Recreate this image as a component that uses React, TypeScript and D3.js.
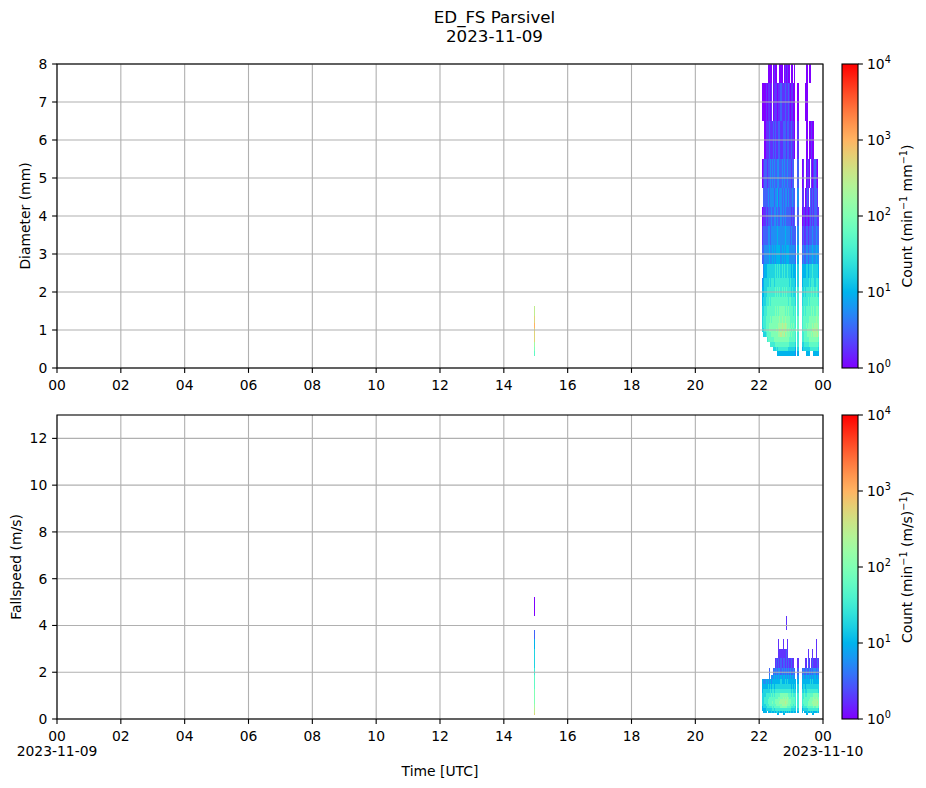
import * as d3 from 'd3';
import React from 'react';

// Parsivel class centres, used as mesh edges (cell j spans edge j .. edge j+1)
const diamEdges = [0.062, 0.187, 0.312, 0.437, 0.562, 0.687, 0.812, 0.937, 1.062, 1.187, 1.375, 1.625,
  1.875, 2.125, 2.375, 2.75, 3.25, 3.75, 4.25, 4.75, 5.5, 6.5, 7.5, 8.5];
const velEdges = [0.05, 0.15, 0.25, 0.35, 0.45, 0.55, 0.65, 0.75, 0.85, 0.95, 1.1, 1.3, 1.5, 1.7, 1.9,
  2.2, 2.6, 3.0, 3.4, 3.8, 4.4, 5.2, 6.0];

const binMinutes = 2;
const eventStartMinute = 22 * 60 + 6;
const spikeMinute = 14 * 60 + 56;

const row = (...parts: string[]) => parts.join('');

// one char per 2-min column (22:06 -> 23:52), level L -> 10^(L/4) counts, '.' = nothing
// rows go from the top class (7.5-8.5 mm) down to 0.312-0.437 mm
const dsdTopCell = 22;
const dsdRows = [
  row('.....0000.', '0100..000.', '010100.00.', '0.........', '.00.00....', '...'),
  row('000101101.', '0111011211', '1211210110', '0..0......', '000.......', '...'),
  row('..01112111', '2121122112', '2212211211', '0..1......', '.00.00100.', '...'),
  row('0122122323', '2322332232', '3223222122', '...2...01.', '.0110.1012', '10.'),
  row('.222232333', '3233423323', '2332322232', '2..3...11.', '0121.21212', '21.'),
  row('0112122232', '2332322323', '2322222121', '2..2...011', '0110121212', '211'),
  row('1222233233', '3333433333', '3433332322', '22.3...121', '1221222322', '322'),
  row('2233334334', '3434444343', '4344433333', '32.4...232', '2332333433', '433'),
  row('.344555555', '5565656565', '6556555454', '44.5...444', '4554555655', '554'),
  row('3455556566', '6566666666', '6666656555', '54.5...455', '5555656665', '665'),
  row('4455666666', '6676767676', '7676666565', '55.6...556', '5666667676', '765'),
  row('4556667677', '7777777777', '7777677666', '65.6...566', '6667677777', '776'),
  row('5566777777', '7787878888', '8787877776', '76.6...667', '6777778787', '887'),
  row('5667777878', '8888889898', '8988887777', '76.7...677', '7777888888', '988'),
  row('5667778888', '88888999a9', '9a98887878', '76.7...677', '7878888989', '998'),
  row('5567778888', '888989a9a9', '9a98988787', '77.7...677', '77888889a9', 'a98'),
  row('.556777788', '8888899a99', 'a898887877', '76.6...667', '7788889899', '9a8'),
  row('....677777', '7888888888', '8888877777', '76.6...667', '7777888888', '887'),
  row('.......666', '6677777777', '7777766666', '65.6...556', '6666777777', '776'),
  row('..........', '5556566666', '6666555555', '54.5...455', '5555566666', '665'),
  row('..........', '....444444', '4444444444', '43.4......', '.4444...44', '444'),
];

// rows from 4.4-5.2 m/s down to 0.05-0.15 m/s
const vdTopCell = 20;
const vdRows = [
  row('..........', '..........', '..........', '..........', '..........', '...'),
  row('..........', '..........', '..1.......', '..........', '..........', '...'),
  row('..........', '..........', '..........', '..........', '..........', '...'),
  row('..........', '.....1...1', '...1......', '..........', '..........', '1..'),
  row('..........', '.....11111', '1121......', '..........', '...1...1..', '1..'),
  row('..........', '..12121212', '2121211211', '...1......', '11.21.1211', '121'),
  row('......2...', '2323233232', '3232323223', '2..2...232', '2322323233', '232'),
  row('......3.33', '3434343434', '4343434343', '3..3...343', '3434343434', '343'),
  row('4334343434', '4444444544', '4545444444', '44.4...444', '4444454544', '444'),
  row('4444454545', '5455555555', '5555555454', '54.5...455', '4555555555', '555'),
  row('4555555656', '6566666666', '6666666565', '55.5...556', '5566666666', '665'),
  row('5556666676', '7677777888', '8888777676', '66.6...667', '6677777788', '887'),
  row('5566667777', '7777788889', '8989877777', '76.6...667', '7777788898', '988'),
  row('5566677777', '7788888999', '9999888777', '76.6...677', '7777888899', '998'),
  row('5566677778', '7788889999', '9a99888777', '76.6...677', '7778888999', '9a8'),
  row('5556667777', '7778888899', '9998887776', '76.6...667', '7778888899', '998'),
  row('4555666667', '6777777888', '8887777666', '65.6...566', '6677777787', '887'),
  row('4445555556', '6566666666', '6666666555', '55.5...455', '5556666666', '665'),
  row('.444.44454', '4545545454', '5454545445', '44.4...4.4', '4454454544', '454'),
  row('..........', '....44...4', '4.........', '..........', '.44....44.', '...'),
  row('..........', '..........', '..........', '..........', '..........', '...'),
];

// single-minute shower near 15 UTC, bottom class first
const spikeDsd = '..789bbbcba';
const spikeVd = '.baa998888877765542.0';

const hourTicks = d3.range(0, 25, 2);
const diamTicks = d3.range(0, 9, 1);
const velTicks = d3.range(0, 13, 2);
const cbarExps = [0, 1, 2, 3, 4];

const W = 926;
const H = 788;
const left = 57;
const right = 823;
const font = 'DejaVu Sans';
const gridColor = '#b0b0b0';

// matplotlib "rainbow"
const rainbow = (t: number) => {
  const r = Math.min(1, Math.abs(2 * t - 0.5));
  const g = Math.sin(Math.PI * t);
  const b = Math.cos((Math.PI * t) / 2);
  return d3.rgb(r * 255, g * 255, b * 255).formatHex();
};
const norm = d3.scaleLog().domain([1, 1e4]).range([0, 1]).clamp(true);
const colorOf = (c: number) => rainbow(norm(c));

type Cell = { t0: number; t1: number; v0: number; v1: number; c: number };

function buildCells(rows: string[], topCell: number, edges: number[], spike: string): Cell[] {
  const cells: Cell[] = [];
  rows.forEach((r, ri) => {
    const j = topCell - ri;
    r.split('').forEach((ch, k) => {
      if (ch === '.') return;
      const t0 = eventStartMinute + k * binMinutes;
      cells.push({ t0, t1: t0 + binMinutes, v0: edges[j], v1: edges[j + 1], c: 10 ** (parseInt(ch, 16) / 4) });
    });
  });
  spike.split('').forEach((ch, j) => {
    if (ch === '.') return;
    cells.push({ t0: spikeMinute, t1: spikeMinute + binMinutes, v0: edges[j], v1: edges[j + 1], c: 10 ** (parseInt(ch, 16) / 4) });
  });
  return cells;
}

const x = d3.scaleLinear().domain([0, 1440]).range([left, right]);

type PanelProps = {
  id: string;
  top: number;
  bottom: number;
  yMax: number;
  yTicks: number[];
  yLabel: string;
  yLabelX: number;
  cbarUnit: React.ReactNode;
  cells: Cell[];
  dates?: boolean;
};

const Panel: React.FC<PanelProps> = ({ id, top, bottom, yMax, yTicks, yLabel, yLabelX, cbarUnit, cells, dates }) => {
  const y = d3.scaleLinear().domain([0, yMax]).range([bottom, top]);
  const cbX = 842;
  const cbW = 16;
  const cbY = d3.scaleLinear().domain([0, 4]).range([bottom, top]);
  const stops = d3.range(0, 1.0001, 0.05);
  const mid = (top + bottom) / 2;
  return (
    <g>
      <defs>
        <clipPath id={`clip-${id}`}>
          <rect x={left} y={top} width={right - left} height={bottom - top} />
        </clipPath>
        <linearGradient id={`grad-${id}`} x1="0" y1="1" x2="0" y2="0">
          {stops.map((s) => (
            <stop key={s} offset={s} stopColor={rainbow(s)} />
          ))}
        </linearGradient>
      </defs>
      <g clipPath={`url(#clip-${id})`}>
        {cells.map((c, i) => (
          <rect
            key={i}
            x={x(c.t0)}
            width={x(c.t1) - x(c.t0)}
            y={y(c.v1)}
            height={y(c.v0) - y(c.v1)}
            fill={colorOf(c.c)}
            shapeRendering="crispEdges"
          />
        ))}
      </g>
      {hourTicks.map((h) => (
        <line key={`gx${h}`} x1={x(h * 60)} x2={x(h * 60)} y1={top} y2={bottom} stroke={gridColor} strokeWidth={1.1} />
      ))}
      {yTicks.map((v) => (
        <line key={`gy${v}`} x1={left} x2={right} y1={y(v)} y2={y(v)} stroke={gridColor} strokeWidth={1.1} />
      ))}
      <rect x={left} y={top} width={right - left} height={bottom - top} fill="none" stroke="#000" strokeWidth={1.1} />
      {hourTicks.map((h) => (
        <g key={`tx${h}`}>
          <line x1={x(h * 60)} x2={x(h * 60)} y1={bottom} y2={bottom + 4.9} stroke="#000" strokeWidth={1.1} />
          <text x={x(h * 60)} y={bottom + 21.7} textAnchor="middle" fontSize={13.9} fontFamily={font}>
            {String(h % 24).padStart(2, '0')}
          </text>
        </g>
      ))}
      {dates && (
        <>
          <text x={x(0)} y={bottom + 37} textAnchor="middle" fontSize={13.9} fontFamily={font}>2023-11-09</text>
          <text x={x(1440)} y={bottom + 37} textAnchor="middle" fontSize={13.9} fontFamily={font}>2023-11-10</text>
        </>
      )}
      {yTicks.map((v) => (
        <g key={`ty${v}`}>
          <line x1={left - 4.9} x2={left} y1={y(v)} y2={y(v)} stroke="#000" strokeWidth={1.1} />
          <text x={left - 9.7} y={y(v) + 5} textAnchor="end" fontSize={13.9} fontFamily={font}>{v}</text>
        </g>
      ))}
      <text
        transform={`translate(${yLabelX},${mid}) rotate(-90)`}
        textAnchor="middle"
        fontSize={13.9}
        fontFamily={font}
      >
        {yLabel}
      </text>
      <rect x={cbX} y={top} width={cbW} height={bottom - top} fill={`url(#grad-${id})`} />
      <rect x={cbX} y={top} width={cbW} height={bottom - top} fill="none" stroke="#000" strokeWidth={1.1} />
      {cbarExps.map((e) => (
        <g key={`cb${e}`}>
          <line x1={cbX + cbW} x2={cbX + cbW + 4.9} y1={cbY(e)} y2={cbY(e)} stroke="#000" strokeWidth={1.1} />
          <text x={cbX + cbW + 9} y={cbY(e) + 5} fontSize={13.9} fontFamily={font}>
            10<tspan dy={-6} fontSize={9.7}>{e}</tspan>
          </text>
        </g>
      ))}
      <text
        transform={`translate(912,${mid}) rotate(-90)`}
        textAnchor="middle"
        fontSize={13.9}
        fontFamily={font}
      >
        {cbarUnit}
      </text>
    </g>
  );
};

const sup = (s: string) => (
  <tspan dy={-5.5} fontSize={9.7}>{s}</tspan>
);
const down = (s: string) => <tspan dy={5.5}>{s}</tspan>;

const App: React.FC = () => {
  const dsdCells = buildCells(dsdRows, dsdTopCell, diamEdges, spikeDsd);
  const vdCells = buildCells(vdRows, vdTopCell, velEdges, spikeVd);
  return (
    <svg width={W} height={H} style={{ position: 'absolute', left: 0, top: 0, background: '#fff' }}>
      <text x={494.5} y={22.7} textAnchor="middle" fontSize={16.7} fontFamily={font}>ED_FS Parsivel</text>
      <text x={494.5} y={41.5} textAnchor="middle" fontSize={16.7} fontFamily={font}>2023-11-09</text>
      <Panel
        id="dsd"
        top={64}
        bottom={368}
        yMax={8}
        yTicks={diamTicks}
        yLabel="Diameter (mm)"
        yLabelX={30}
        cells={dsdCells}
        cbarUnit={<>Count (min{sup('−1')}{down(' mm')}{sup('−1')}{down(')')}</>}
      />
      <Panel
        id="vd"
        top={415}
        bottom={719}
        yMax={13}
        yTicks={velTicks}
        yLabel="Fallspeed (m/s)"
        yLabelX={21}
        cells={vdCells}
        dates
        cbarUnit={<>Count (min{sup('−1')}{down(' (m/s)')}{sup('−1')}{down(')')}</>}
      />
      <text x={440} y={776} textAnchor="middle" fontSize={13.9} fontFamily={font}>Time [UTC]</text>
    </svg>
  );
};

export default App;
